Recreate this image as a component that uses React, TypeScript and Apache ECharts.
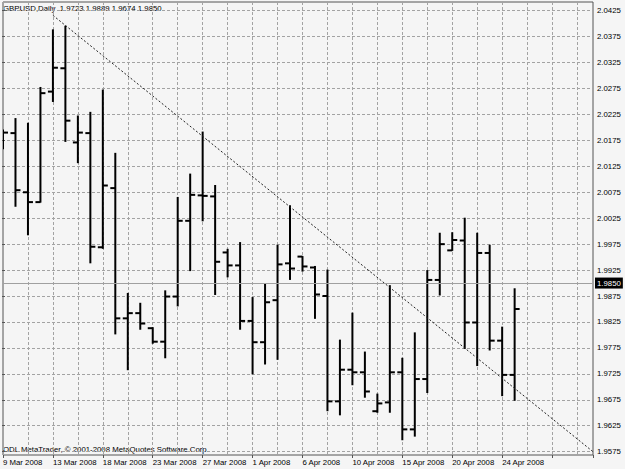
import React, { useEffect, useRef } from 'react';
import * as echarts from 'echarts';

const symbol = 'GBPUSD';
const period = 'Daily';

const dates = [
  '9 Mar 2008', '10 Mar 2008', '11 Mar 2008', '12 Mar 2008', '13 Mar 2008', '14 Mar 2008',
  '16 Mar 2008', '17 Mar 2008', '18 Mar 2008', '19 Mar 2008', '20 Mar 2008', '21 Mar 2008',
  '23 Mar 2008', '24 Mar 2008', '25 Mar 2008', '26 Mar 2008', '27 Mar 2008', '28 Mar 2008',
  '30 Mar 2008', '31 Mar 2008', '1 Apr 2008', '2 Apr 2008', '3 Apr 2008', '4 Apr 2008',
  '6 Apr 2008', '7 Apr 2008', '8 Apr 2008', '9 Apr 2008', '10 Apr 2008', '11 Apr 2008',
  '13 Apr 2008', '14 Apr 2008', '15 Apr 2008', '16 Apr 2008', '17 Apr 2008', '18 Apr 2008',
  '20 Apr 2008', '21 Apr 2008', '22 Apr 2008', '23 Apr 2008', '24 Apr 2008', '25 Apr 2008',
];

const opens = [
  2.0180, 2.0189, 2.0075, 2.0056, 2.0269, 2.0314, 2.0171, 2.0189, 1.9969, 2.0083, 1.9832, 1.9842,
  1.9813, 1.9787, 1.9874, 2.0020, 2.0069, 2.0067, 1.9959, 1.9934, 1.9827, 1.9786, 1.9867, 1.9938,
  1.9951, 1.9930, 1.9875, 1.9672, 1.9733, 1.9728, 1.9653, 1.9670, 1.9728, 1.9618, 1.9715, 1.9906,
  1.9963, 1.9982, 1.9824, 1.9958, 1.9789, 1.9723,
];
const highs = [
  2.0195, 2.0217, 2.0208, 2.0277, 2.0388, 2.0395, 2.0222, 2.0229, 2.0272, 2.0150, 1.9880, 1.9861,
  1.9814, 1.9885, 2.0065, 2.0110, 2.0191, 2.0088, 1.9965, 1.9978, 1.9872, 1.9898, 1.9973, 2.0049,
  1.9951, 1.9932, 1.9925, 1.9790, 1.9842, 1.9767, 1.9686, 1.9895, 1.9755, 1.9804, 1.9924, 1.9996,
  1.9997, 2.0025, 1.9996, 1.9973, 1.9815, 1.9889,
];
const lows = [
  2.0159, 2.0048, 1.9993, 2.0056, 2.0250, 2.0173, 2.0132, 1.9939, 1.9967, 1.9802, 1.9733, 1.9811,
  1.9784, 1.9756, 1.9856, 1.9924, 2.0020, 1.9878, 1.9912, 1.9811, 1.9725, 1.9744, 1.9753, 1.9907,
  1.9923, 1.9832, 1.9654, 1.9646, 1.9704, 1.9680, 1.9651, 1.9651, 1.9598, 1.9605, 1.9689, 1.9877,
  1.9963, 1.9774, 1.9741, 1.9771, 1.9683, 1.9674,
];
const closes = [
  2.0190, 2.0079, 2.0056, 2.0266, 2.0315, 2.0213, 2.0190, 1.9970, 2.0088, 1.9832, 1.9842, 1.9822,
  1.9787, 1.9874, 2.0020, 2.0070, 2.0068, 1.9941, 1.9934, 1.9827, 1.9786, 1.9863, 1.9936, 1.9928,
  1.9932, 1.9878, 1.9672, 1.9733, 1.9728, 1.9691, 1.9668, 1.9728, 1.9618, 1.9715, 1.9906, 1.9975,
  1.9983, 1.9824, 1.9958, 1.9789, 1.9723, 1.9850,
];

// trend line: [bar index, price]
const trendPoints = [
  [4, 2.0416],
  [47.28, 1.9575],
];

const priceTicks = { min: 1.9575, max: 2.0425, step: 0.005 };
const viewRange = { min: 1.95686, max: 2.04417, xMax: 47.28 };

const FONT = 'Liberation Sans';
const FS = 7.8;

export default function App() {
  const ref = useRef<HTMLDivElement>(null);

  useEffect(() => {
    if (!ref.current) return;
    const chart = echarts.init(ref.current, undefined, { renderer: 'svg' });

    const ohlc = dates.map((_, i) => [i, opens[i], highs[i], lows[i], closes[i]]);
    const last = ohlc.length - 1;
    const header = `${symbol},${period}  ${opens[last].toFixed(4)} ${highs[last].toFixed(4)} ${lows[last].toFixed(4)} ${closes[last].toFixed(4)}`;

    const gridLine = { color: '#a3a3a3', type: [3, 2] as any, width: 1 };

    const option: any = {
      animation: false,
      backgroundColor: '#f5f5f5',
      textStyle: { fontFamily: FONT },
      grid: [
        { left: 2, top: 2, width: 591, height: 453, show: true, borderColor: '#555', borderWidth: 1, backgroundColor: 'transparent' },
        { left: 2, top: 10.67, width: 591, height: 441, show: false },
      ],
      xAxis: [
        {
          gridIndex: 0, type: 'value', min: 0, max: viewRange.xMax, interval: 2, position: 'top',
          axisLine: { show: false }, axisTick: { show: false }, axisLabel: { show: false },
          splitLine: { show: true, lineStyle: gridLine },
        },
        {
          gridIndex: 0, type: 'value', min: 0, max: viewRange.xMax, interval: 4, position: 'bottom',
          axisLine: { show: false },
          axisTick: { show: true, length: 3, lineStyle: { color: '#555' } },
          axisLabel: {
            margin: 3, fontSize: FS, color: '#000', fontFamily: FONT, align: 'left',
            formatter: (v: number) => (Number.isInteger(v) && v % 4 === 0 && v < dates.length ? dates[v] : ''),
          },
          splitLine: { show: false },
        },
        { gridIndex: 1, type: 'value', min: 0, max: 1, show: false },
      ],
      yAxis: [
        { gridIndex: 0, type: 'value', min: viewRange.min, max: viewRange.max, show: false },
        {
          gridIndex: 1, type: 'value', min: priceTicks.min, max: priceTicks.max, interval: priceTicks.step,
          position: 'right',
          axisLine: { show: false },
          axisTick: { show: true, length: 3, lineStyle: { color: '#555' } },
          axisLabel: { margin: 4, fontSize: FS, color: '#000', fontFamily: FONT, formatter: (v: number) => v.toFixed(4) },
          splitLine: { show: true, lineStyle: gridLine },
        },
      ],
      graphic: [
        {
          type: 'text', x: 3, y: 8,
          style: { text: header, font: `${FS}px "${FONT}"`, fill: '#000', verticalAlign: 'middle', align: 'left' },
        },
        {
          type: 'text', x: 3, y: 449,
          style: { text: 'ODL MetaTrader, © 2001-2008 MetaQuotes Software Corp.', font: `${FS}px "${FONT}"`, fill: '#000', verticalAlign: 'middle', align: 'left' },
        },
      ],
      series: [
        {
          type: 'line', xAxisIndex: 0, yAxisIndex: 0, data: [], z: 1, silent: true,
          markLine: {
            silent: true, symbol: ['none', 'none'],
            lineStyle: { color: '#a0a0a0', type: 'solid', width: 1 },
            data: [{ yAxis: closes[last] }],
            label: {
              position: 'end', distance: 2, formatter: closes[last].toFixed(4),
              backgroundColor: '#000', color: '#fff', padding: [2, 2, 1, 2], fontSize: FS, fontFamily: FONT,
            },
          },
        },
        {
          type: 'custom', xAxisIndex: 0, yAxisIndex: 0, data: ohlc, clip: true, z: 3,
          encode: { x: 0, y: [1, 2, 3, 4] },
          renderItem: (params: any, api: any) => {
            const x = api.value(0);
            const o = api.coord([x, api.value(1)]);
            const h = api.coord([x, api.value(2)]);
            const l = api.coord([x, api.value(3)]);
            const c = api.coord([x, api.value(4)]);
            const st = { stroke: '#000', lineWidth: 2 };
            return {
              type: 'group',
              children: [
                { type: 'line', shape: { x1: h[0], y1: h[1] - 0.5, x2: l[0], y2: l[1] + 0.5 }, style: st },
                { type: 'line', shape: { x1: o[0] - 5, y1: o[1], x2: o[0], y2: o[1] }, style: st },
                { type: 'line', shape: { x1: c[0], y1: c[1], x2: c[0] + 5, y2: c[1] }, style: st },
              ],
            };
          },
        },
        {
          type: 'line', xAxisIndex: 0, yAxisIndex: 0, data: trendPoints, z: 4, symbol: 'none', silent: true,
          lineStyle: { color: '#222', width: 1, type: [2, 2] },
        },
      ],
    };

    chart.setOption(option);
    return () => chart.dispose();
  }, []);

  return <div ref={ref} style={{ position: 'fixed', left: 0, top: 0, width: 625, height: 469 }} />;
}
